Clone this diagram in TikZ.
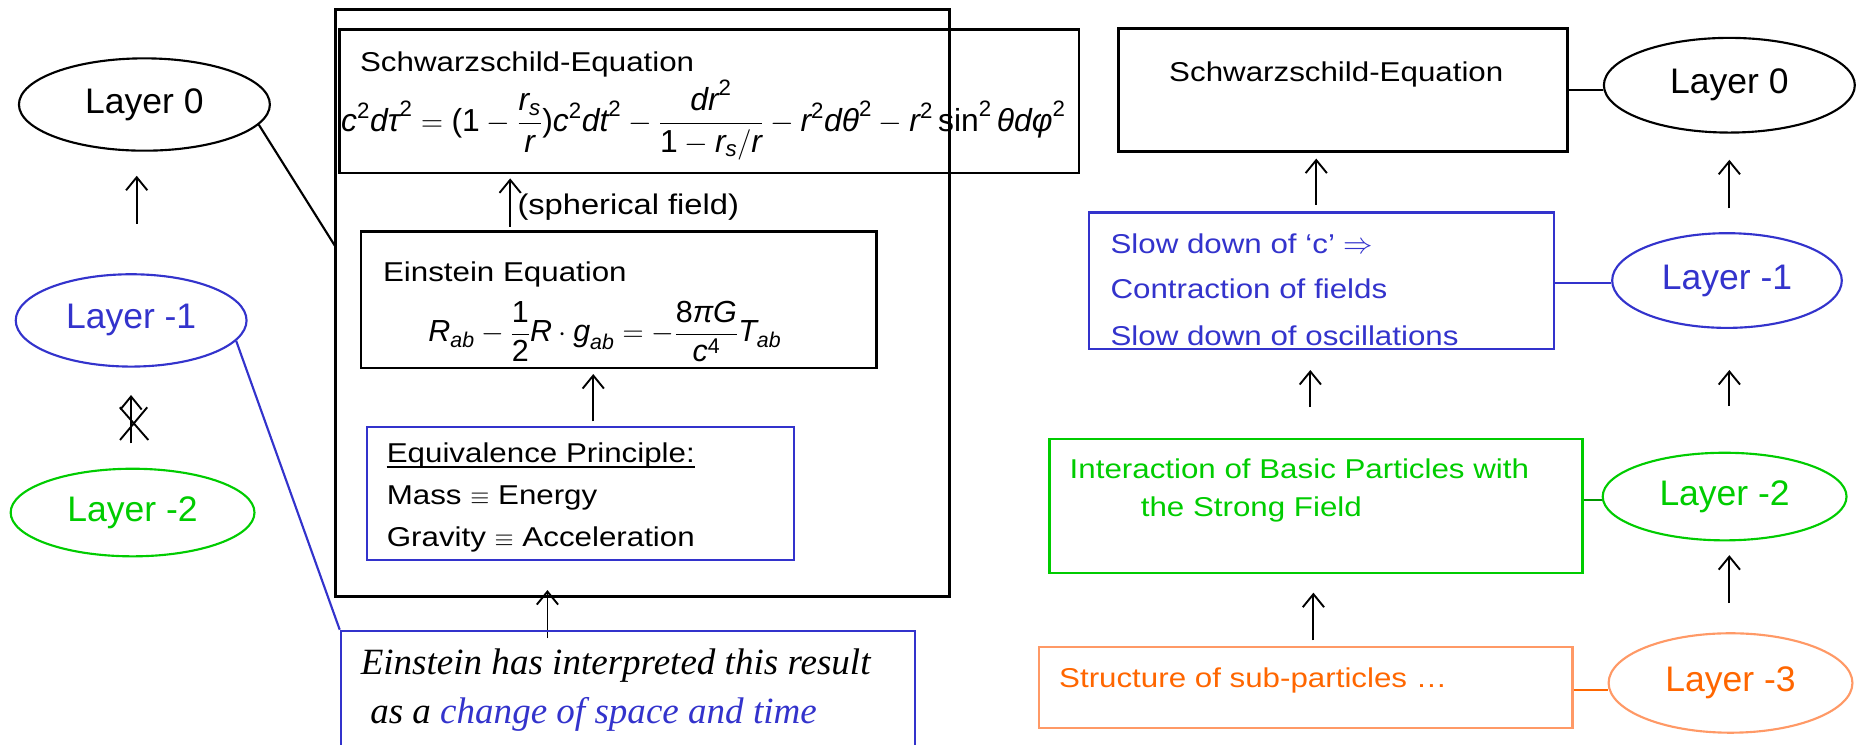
\documentclass[tikz,border=0pt]{standalone}
\usepackage{amsmath}
\usepackage{graphicx}
\usepackage{fontspec}
\setmainfont{Liberation Sans}
\newfontfamily\bx{Liberation Sans}[FakeStretch=1.15]
\newfontfamily\tmsit{Liberation Serif}
\usetikzlibrary{arrows.meta,shapes.geometric}
\definecolor{pblue}{RGB}{51,51,204}
\definecolor{pgreen}{RGB}{0,204,0}
\definecolor{pdgreen}{RGB}{0,150,0}
\definecolor{porange}{RGB}{255,102,0}
\definecolor{plorange}{RGB}{255,153,102}
\newcommand{\vi}[1]{\text{\itshape #1}}
\newcommand{\vu}[1]{\text{\upshape #1}}
\newcommand{\eqv}{{\fontsize{20}{22}\selectfont$\equiv$}}
\tikzset{
  box/.style={draw, rectangle, line width=2.2pt, inner sep=0pt},
  cbox/.style={draw, rectangle, line width=2pt, inner sep=0pt},
  lay/.style={draw, ellipse, line width=1.8pt, inner sep=0pt, font=\fontsize{30}{36}\selectfont},
  up/.style={-{Straight Barb[length=11pt,width=18pt]}, line width=1.6pt},
  txt/.style={inner sep=0pt, anchor=base west, font=\fontsize{23}{28}\bx},
  itx/.style={inner sep=0pt, anchor=base west, font=\fontsize{31.3}{37}\tmsit\itshape},
  link/.style={line width=1.8pt}
}
\begin{document}
\begin{tikzpicture}[x=1pt,y=-1pt]
\useasboundingbox (0,0) rectangle (1568,629);
\clip (0,0) rectangle (1568,629);

% ---------- left column ----------
\node[lay, minimum width=212pt, minimum height=78pt] (L0L) at (122,88.3) {Layer 0};
\node[lay, pblue, minimum width=195pt, minimum height=78pt] (L1L) at (110.8,270.7) {Layer -1};
\node[lay, pgreen, minimum width=206pt, minimum height=74pt] (L2L) at (112,433) {Layer -2};

\coordinate (a1s) at (115.5,189); \coordinate (a1e) at (115.5,148.5);
\draw[up] (a1s) -- (a1e);
\coordinate (xs) at (110.7,374.5); \coordinate (xe) at (110.7,333.7);
\draw[up] (xs) -- (xe);
\coordinate (xa) at (101.4,371.7); \coordinate (xb) at (124.4,344.1);
\coordinate (xc) at (101.2,344.1); \coordinate (xd) at (125.3,371.7);
\draw[line width=1.6pt] (xa) -- (xb) (xc) -- (xd);

% ---------- middle block ----------
\node[box, minimum width=518.4pt, minimum height=496pt] (big) at (542.8,256) {};
\node[box, minimum width=624.6pt, minimum height=121.2pt] (schwL) at (599.3,85.4) {};
\node[txt] (schwLT) at (304,60) {Schwarzschild-Equation};
\node[inner sep=0pt, anchor=west, font=\fontsize{26}{31}\selectfont] (schwF) at (288,101.5)
 {\resizebox{612pt}{!}{$\displaystyle \vi{c}^{\vu{2}}\vi{dτ}^{\vu{2}} = \vu{(}\vu{1}-\frac{\vi{r}_{\vi{s}}}{\vi{r}}\vu{)}\vi{c}^{\vu{2}}\vi{dt}^{\vu{2}} - \frac{\vi{dr}^{\vu{2}}}{\vu{1}-\vi{r}_{\vi{s}}/\vi{r}} - \vi{r}^{\vu{2}}\vi{dθ}^{\vu{2}} - \vi{r}^{\vu{2}}\,\vu{sin}^{\vu{2}}\,\vi{θdφ}^{\vu{2}}$}};

\coordinate (sps) at (431,191.5); \coordinate (spe) at (431,150.7);
\draw[up] (sps) -- (spe);
\node[inner sep=0pt, anchor=west, font=\fontsize{24}{29}\bx] (sph) at (437,174.6) {(spherical field)};

\node[box, minimum width=435.5pt, minimum height=115.3pt] (ein) at (522.75,253.35) {};
\node[txt] (einT) at (323.4,238) {Einstein Equation};
\node[inner sep=0pt, font=\fontsize{26}{31}\selectfont] (einF) at (511,280)
 {\resizebox{298pt}{!}{$\displaystyle \vi{R}_{\vi{ab}} - \frac{\vu{1}}{\vu{2}}\vi{R}\cdot\vi{g}_{\vi{ab}} = -\frac{\vu{8}\vi{π}\vi{G}}{\vi{c}^{\vu{4}}}\vi{T}_{\vi{ab}}$}};

\coordinate (eqs) at (501.2,356); \coordinate (eqe) at (501.2,316);
\draw[up] (eqs) -- (eqe);

\node[cbox, pblue, minimum width=361.2pt, minimum height=112.5pt] (equiv) at (490.4,416.75) {};
\node[txt] (eqT) at (326.6,391) {Equivalence Principle:};
\draw[line width=1.3pt] ([yshift=-3.6pt]eqT.base west) -- ([yshift=-3.6pt]eqT.base east);
\node[txt] (eqM) at (326.6,426.6) {Mass \eqv{} Energy};
\node[txt] (eqG) at (326.6,461.8) {Gravity \eqv{} Acceleration};

\coordinate (its) at (462.5,539); \coordinate (ite) at (462.5,498.5);
\draw[up] (its) -- (ite);

\node[cbox, pblue, minimum width=484.8pt, minimum height=160pt, anchor=north west] (ital) at (287,532) {};
\node[itx] (it1) at (304.6,570) {Einstein has interpreted this result};
\node[itx] (it2) at (312.6,611) {as a \textcolor{pblue}{change of space and time}};

\coordinate (bigL) at (283.6,208.7);
\draw[link] (L0L.-10) -- (bigL);
\draw[link, pblue] (L1L.-11) -- (ital.north west);

% ---------- right column ----------
\node[box, minimum width=379pt, minimum height=104pt] (schwR) at (1134.5,76) {};
\node[txt] (schwRT) at (987.6,69) {Schwarzschild-Equation};
\node[lay, minimum width=212pt, minimum height=80pt] (L0R) at (1461,72) {Layer 0};
\draw[link] (schwR.east) -- (schwR.east -| L0R.west);

\coordinate (r1s) at (1112,173); \coordinate (r1e) at (1112,134);
\draw[up] (r1s) -- (r1e);
\coordinate (r2s) at (1461,176); \coordinate (r2e) at (1461,135);
\draw[up] (r2s) -- (r2e);

\node[cbox, pblue, minimum width=393pt, minimum height=115.5pt] (slowR) at (1116.5,237.25) {};
\node[txt, pblue] (sl1) at (938,214) {Slow down of ‘c’ $\Rightarrow$};
\node[txt, pblue] (sl2) at (938,252.5) {Contraction of fields};
\node[txt, pblue] (sl3) at (938,291.5) {Slow down of oscillations};
\node[lay, pblue, minimum width=194pt, minimum height=80pt] (L1R) at (1459,237) {Layer -1};
\draw[link, pblue] ([yshift=-1.5pt]slowR.east) -- ([yshift=-1.5pt]slowR.east -| L1R.west);

\coordinate (r3s) at (1107,344); \coordinate (r3e) at (1107,312.6);
\draw[up] (r3s) -- (r3e);
\coordinate (r4s) at (1461,343); \coordinate (r4e) at (1461,312.6);
\draw[up] (r4s) -- (r4e);

\node[cbox, pgreen, minimum width=450.4pt, minimum height=113pt] (interR) at (1111.8,427.5) {};
\node[txt, pgreen] (in1) at (903.5,404) {Interaction of Basic Particles with};
\node[txt, pgreen] (in2) at (963.6,436.5) {the Strong Field};
\node[lay, pgreen, minimum width=206pt, minimum height=74pt] (L2R) at (1457,419.5) {Layer -2};
\draw[link, pdgreen] ([yshift=5pt]interR.east) -- ([yshift=5pt]interR.east -| L2R.west);

\coordinate (r5s) at (1109.6,541); \coordinate (r5e) at (1109.6,500.7);
\draw[up] (r5s) -- (r5e);
\coordinate (r6s) at (1461,509.5); \coordinate (r6e) at (1461,469);
\draw[up] (r6s) -- (r6e);

\node[cbox, plorange, minimum width=450.8pt, minimum height=68.4pt] (structR) at (1103.2,580.8) {};
\node[txt, porange] (st1) at (894.6,581) {Structure of sub-particles …};
\node[lay, draw=plorange, text=porange, minimum width=206pt, minimum height=84pt] (L3R) at (1462,577) {Layer -3};
\draw[link, porange] ([yshift=-2pt]structR.east) -- ([yshift=-2pt]structR.east -| L3R.west);
\end{tikzpicture}
\end{document}
